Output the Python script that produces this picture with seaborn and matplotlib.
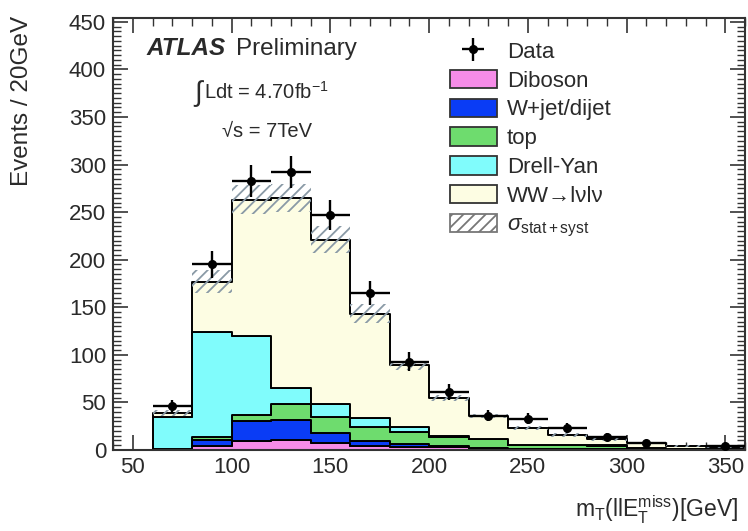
import numpy as np
import pandas as pd
import matplotlib
matplotlib.use("Agg")
import matplotlib.pyplot as plt
from matplotlib.patches import Patch
from matplotlib.ticker import MultipleLocator
import seaborn as sns

# ---------------- data ----------------
bin_edges = [60, 80, 100, 120, 140, 160, 180, 200, 220, 240, 260, 280, 300, 320, 340, 360]
bin_centers = [70, 90, 110, 130, 150, 170, 190, 210, 230, 250, 270, 290, 310, 330, 350]

diboson = [0.5, 4, 9, 10, 7, 4.5, 3.5, 3, 2, 1, 0.5, 0.5, 0.3, 0.2, 0.1]
wjet = [0.5, 6, 22, 22, 11, 5, 2.5, 1, 0.5, 0.5, 0.3, 0.2, 0.1, 0.1, 0.1]
top = [0.5, 4, 6, 16, 17, 15, 13, 10, 9, 4, 4, 4, 1.5, 1, 1]
drellyan = [33, 110, 83, 17, 13, 9.5, 5.5, 1, 0.5, 0.2, 0.2, 0.2, 0.1, 0.1, 0.1]
ww = [4.5, 53, 143, 200, 173, 109, 64.5, 40, 23.5, 17.7, 10.5, 6.5, 5, 3, 1.6]
syst_unc = [3, 12, 15, 15, 14, 10, 5, 3, 2, 2, 2, 1.5, 1, 1, 1]

data = [46, 195, 283, 292, 247, 165, 93, 61, 36, 33, 23, 14, 7, 0, 4]
data_err = [7, 14, 17, 17, 16, 13, 10, 8, 6, 6, 5, 4, 3, 0, 3]

process_names = ["Diboson", "W+jet/dijet", "top", "Drell-Yan", "WW→lνlν"]
process_colors = ["#f68ce8", "#0a3cf5", "#6edc6e", "#80fcfc", "#fdfde3"]
y_ticks = [0, 50, 100, 150, 200, 250, 300, 350, 400, 450]
x_ticks = [50, 100, 150, 200, 250, 300, 350]

# ---------------- style ----------------
sns.set_style("white")
plt.rcParams["font.family"] = ["Liberation Sans", "DejaVu Sans"]
plt.rcParams["mathtext.fontset"] = "custom"
plt.rcParams["mathtext.rm"] = "Liberation Sans"
plt.rcParams["mathtext.it"] = "Liberation Sans:italic"
plt.rcParams["hatch.linewidth"] = 1.3
TXT = "#2a2a2a"

W, H = 748, 531
fig = plt.figure(figsize=(W / 100, H / 100), dpi=100)
ax = fig.add_axes([113 / W, 1 - 450 / H, (745 - 113) / W, (450 - 18) / H])

# long-format table for seaborn
series = [diboson, wjet, top, drellyan, ww]
rows = []
for name, vals in zip(process_names, series):
    for c, v in zip(bin_centers, vals):
        rows.append({"x": c, "w": v, "process": name})
df = pd.DataFrame(rows)

palette = dict(zip(process_names, process_colors))
# last hue level is stacked at the bottom
sns.histplot(data=df, x="x", weights="w", hue="process",
             hue_order=process_names[::-1], palette=palette,
             bins=bin_edges, multiple="stack", element="step",
             fill=True, alpha=1, edgecolor="black", linewidth=1.4,
             legend=False, ax=ax)

# uncertainty band
total = np.sum(np.array(series), axis=0)
unc = np.array(syst_unc)
ax.bar(bin_centers, 2 * unc, bottom=total - unc, width=20, fill=False,
       hatch="///", edgecolor="#8a9aa6", linewidth=0, zorder=3)

# data points
dat = np.array(data, dtype=float)
mask = dat > 0
err = ax.errorbar(np.array(bin_centers)[mask], dat[mask], xerr=10,
                  yerr=np.array(data_err)[mask], fmt="o", color="black",
                  ms=5.5, elinewidth=1.7, capsize=0, zorder=5)

# axes
ax.set_xlim(40, 360)
ax.set_ylim(0, 454)
ax.set_xticks(x_ticks)
ax.set_yticks(y_ticks)
ax.xaxis.set_minor_locator(MultipleLocator(10))
ax.yaxis.set_minor_locator(MultipleLocator(5))
ax.tick_params(which="both", direction="in", top=True, right=True,
               bottom=True, left=True,
               labelsize=16, labelcolor=TXT, color="#333333")
ax.tick_params(which="major", length=11, width=1.2)
ax.tick_params(which="minor", length=6, width=1.0)
ax.tick_params(axis="x", which="major", pad=5)
ax.tick_params(axis="y", which="major", pad=5)
for s in ax.spines.values():
    s.set_linewidth(1.5)
    s.set_color("#333333")

ax.set_xlabel(r"m$_\mathrm{T}$(llE$_\mathrm{T}^\mathrm{miss}$)[GeV]",
              fontsize=16.5, color=TXT, ha="right", va="top")
ax.xaxis.set_label_coords((738 - 113) / 632, -(494 - 450) / 432)
ax.set_ylabel("Events / 20GeV", fontsize=17.5, color=TXT, ha="right", va="center")
ax.yaxis.set_label_coords(-(113 - 22) / 632, (450 - 16) / 432)

# annotations
def px(x, y):
    return x / W, 1 - y / H

fig.text(*px(147, 55), "ATLAS", fontsize=17.5, fontweight="bold",
         fontstyle="italic", color=TXT, va="baseline")
fig.text(*px(236, 55), "Preliminary", fontsize=17.5, color=TXT, va="baseline")
fig.text(*px(193, 101), r"$\int$", fontsize=20, color=TXT, va="baseline")
fig.text(*px(204, 99), r"Ldt = 4.70fb$^{\mathrm{-1}}$", fontsize=14.5,
         color=TXT, va="baseline")
fig.text(*px(222, 137), "√s = 7TeV", fontsize=14.5, color=TXT, va="baseline")

# legend
handles = [err]
for name, col in zip(process_names, process_colors):
    handles.append(Patch(facecolor=col, edgecolor="#333333", linewidth=1.3))
handles.append(Patch(facecolor="white", edgecolor="#777777", hatch="///",
                     linewidth=1.3))
labels = ["Data"] + process_names + [r"$\sigma_{\mathrm{stat+syst}}$"]
leg = ax.legend(handles, labels, loc="upper left",
                bbox_to_anchor=(450 / W, 1 - 41 / H), bbox_transform=fig.transFigure,
                frameon=False, fontsize=16, handlelength=2.1, handleheight=0.9,
                labelspacing=0.31, handletextpad=0.45, borderpad=0, borderaxespad=0)
for t in leg.get_texts():
    t.set_color(TXT)

fig.savefig("out.png", dpi=100, facecolor="white")
